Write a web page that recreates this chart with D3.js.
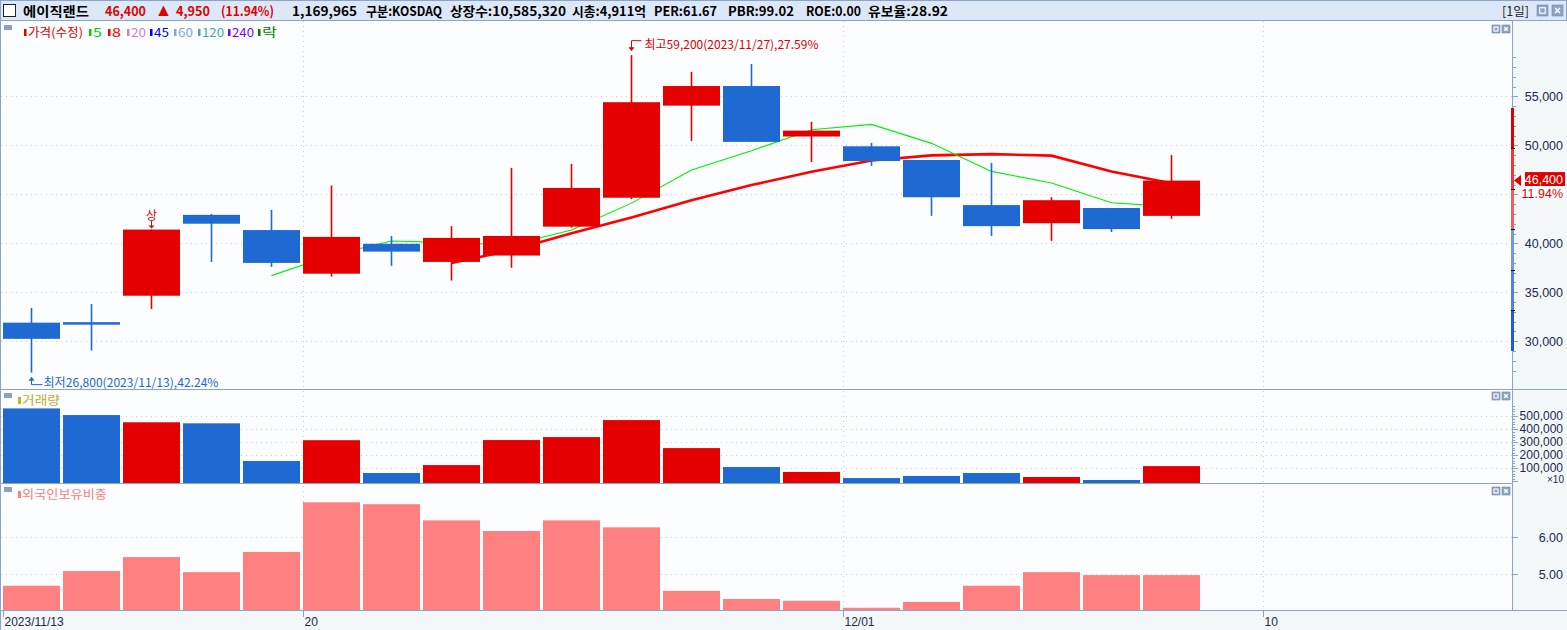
<!DOCTYPE html>
<html><head><meta charset="utf-8">
<script src="https://cdn.jsdelivr.net/npm/d3@7/dist/d3.min.js"></script>
<style>
html,body{margin:0;padding:0;background:#fff;overflow:hidden}
svg{display:block}
text{font-family:"Liberation Sans",Arial,sans-serif}
.kr{font-family:"Noto Sans CJK KR","Noto Sans",sans-serif}
</style></head>
<body>
<svg id="c" width="1567" height="630"></svg>
<script>
// ---------------- DATA ----------------
const dates = ["2023/11/13","2023/11/14","2023/11/15","2023/11/16","2023/11/17","2023/11/20","2023/11/21","2023/11/22","2023/11/23","2023/11/24","2023/11/27","2023/11/28","2023/11/29","2023/11/30","2023/12/01","2023/12/04","2023/12/05","2023/12/06","2023/12/07","2023/12/08"];
const futureDates = ["2023/12/09","2023/12/10","2023/12/11","2023/12/12","2023/12/13"];
const opens  = [31900,31950,34650,42900,41350,36900,39950,38100,38750,41700,44650,54050,56050,50900,49900,48500,43900,42050,43600,42800];
const highs  = [33400,33800,41400,43000,43400,45900,40750,41750,47700,48100,59200,57500,58300,52400,50250,48500,48200,44700,43600,49000];
const lows   = [26800,29050,33300,38100,37600,36600,37700,36200,37500,41600,44500,50450,50350,48300,47900,42800,40750,40250,41150,42500];
const closes = [30250,31850,41400,42000,38000,40650,39150,40550,40750,45650,54400,56050,50350,51500,48400,44700,41750,44400,41450,46400];
const volumes = [5620000,5107000,4550000,4470000,1567000,3170000,640000,1250000,3180000,3410000,4720000,2560000,1100000,720000,250000,410000,640000,330000,100000,1169965];
const foreignRatio = [4.68,5.08,5.46,5.05,5.60,6.95,6.90,6.46,6.17,6.46,6.27,4.54,4.32,4.27,4.08,4.24,4.68,5.05,4.97,4.97];
const maPeriods = [5, 8];
const priceTicks = [30000,35000,40000,45000,50000,55000];
const volumeTicks = [100000,200000,300000,400000,500000];
const foreignTicks = [5, 6];
const dateTickValues = ["2023/11/13","2023/11/20","2023/12/01","2023/12/10"];
const dateTickLabels = ["2023/11/13","20","12/01","10"];
const priceBand = [29000, 53800];
const lastPrice = 46400, lastPct = "11.94%";
const highInfo = "최고59,200(2023/11/27),27.59%";
const lowInfo = "최저26,800(2023/11/13),42.24%";
const headerItems = [
  {t:"에이직랜드", x:23, w:66, c:"#000"},
  {t:"46,400", x:105, w:41, c:"#e00000"},
  {t:"▲", x:158, w:11, c:"#e00000"},
  {t:"4,950", x:176, w:34, c:"#e00000"},
  {t:"(11.94%)", x:221, w:53, c:"#e00000"},
  {t:"1,169,965", x:292, w:65, c:"#000"},
  {t:"구분:KOSDAQ", x:366, w:76, c:"#000"},
  {t:"상장수:10,585,320", x:450, w:116, c:"#000"},
  {t:"시총:4,911억", x:572, w:74, c:"#000"},
  {t:"PER:61.67", x:654, w:63, c:"#000"},
  {t:"PBR:99.02", x:728, w:66, c:"#000"},
  {t:"ROE:0.00", x:806, w:55, c:"#000"},
  {t:"유보율:28.92", x:868, w:80, c:"#000"}
];
const legendItems = [
  {t:"가격(수정)", c:"#e00000", x:24, w:55},
  {t:"5", c:"#00d000", x:89, w:9},
  {t:"8", c:"#ff0000", x:108, w:9},
  {t:"20", c:"#d080e0", x:127, w:15},
  {t:"45", c:"#0000ff", x:150, w:15},
  {t:"60", c:"#80a8d8", x:174, w:15},
  {t:"120", c:"#40a8a8", x:198, w:22},
  {t:"240", c:"#8000ff", x:228, w:22},
  {t:"락", c:"#008000", x:258, w:15}
];

// ---------------- LAYOUT ----------------
const W = 1567, H = 630;
const plotL = 1, plotR = 1512;
const main = {top:21, bottom:389};
const vol = {top:390, bottom:483};
const fr = {top:484, bottom:610};
const RED = "#e50000", BLUE = "#1e69d2", GRID = "#c4ccd6", BORDER = "#8ea4c4", AXT = "#1c2a50";

const svg = d3.select("#c");
svg.append("rect").attr("width",W).attr("height",H).attr("fill","#fbfdfe");
svg.append("rect").attr("x",plotR).attr("y",21).attr("width",W-plotR).attr("height",H-21).attr("fill","#f3f7f7");
svg.append("rect").attr("x",0).attr("y",610).attr("width",W).attr("height",20).attr("fill","#f3f7f7");

const allDates = dates.concat(futureDates);
const x = d3.scaleBand().domain(allDates).range([1.5,1501.5]).paddingInner(0.05).paddingOuter(0.025);
const bw = x.bandwidth();
const cx = d => x(d) + bw/2;

const y = d3.scaleLinear().domain([25130, 62790]).range([main.bottom, main.top-1]);
const yv = d3.scaleLinear().domain([0, 704000]).range([481.3, vol.top]);
const yf = d3.scaleLinear().domain([4.02, 7.45]).range([fr.bottom, fr.top]);

// ---------------- GRID ----------------
const g = svg.append("g");
g.selectAll(".hp").data(priceTicks).join("line")
  .attr("x1",plotL).attr("x2",plotR).attr("y1",d=>Math.round(y(d))+0.5).attr("y2",d=>Math.round(y(d))+0.5)
  .attr("stroke",GRID).attr("stroke-dasharray","1,4");
g.selectAll(".hv").data(volumeTicks).join("line")
  .attr("x1",plotL).attr("x2",plotR).attr("y1",d=>Math.round(yv(d))+0.5).attr("y2",d=>Math.round(yv(d))+0.5)
  .attr("stroke",GRID).attr("stroke-dasharray","1,4");
g.selectAll(".hf").data(foreignTicks).join("line")
  .attr("x1",plotL).attr("x2",plotR).attr("y1",d=>Math.round(yf(d))+0.5).attr("y2",d=>Math.round(yf(d))+0.5)
  .attr("stroke",GRID).attr("stroke-dasharray","1,4");
g.selectAll(".vx").data(dateTickValues.slice(1)).join("line")
  .attr("x1",d=>Math.round(x(d))+0.5).attr("x2",d=>Math.round(x(d))+0.5).attr("y1",main.top).attr("y2",fr.bottom)
  .attr("stroke",GRID).attr("stroke-dasharray","1,4");

// ---------------- MOVING AVERAGES (derived from closes, drawn under candles) ----------------
function movingAvg(n){ return closes.map((c,i)=> i<n-1 ? null : d3.mean(closes.slice(i-n+1,i+1))); }
const ma5 = movingAvg(maPeriods[0]);
const ma8 = movingAvg(maPeriods[1]);
const line = d3.line().defined(d=>d.v!=null).x(d=>cx(d.d)).y(d=>y(d.v));
svg.append("path").datum(dates.map((d,i)=>({d,v:ma8[i]}))).attr("d",line)
  .attr("fill","none").attr("stroke","#ff0000").attr("stroke-width",2.6);
svg.append("path").datum(dates.map((d,i)=>({d,v:ma5[i]}))).attr("d",line)
  .attr("fill","none").attr("stroke","#00f000").attr("stroke-width",1.1);

// ---------------- CANDLES ----------------
const idx = d3.range(dates.length);
const cg = svg.append("g");
cg.selectAll(".wick").data(idx).join("line")
  .attr("x1",i=>cx(dates[i])).attr("x2",i=>cx(dates[i]))
  .attr("y1",i=>y(highs[i])).attr("y2",i=>y(lows[i]))
  .attr("stroke",i=>closes[i]>opens[i]?RED:BLUE).attr("stroke-width",1.6);
cg.selectAll(".body").data(idx).join("rect")
  .attr("x",i=>x(dates[i])).attr("width",bw)
  .attr("y",i=>y(Math.max(opens[i],closes[i])))
  .attr("height",i=>Math.max(2.5, Math.abs(y(opens[i])-y(closes[i]))))
  .attr("fill",i=>closes[i]>opens[i]?RED:BLUE);

// ---------------- VOLUME ----------------
svg.append("g").selectAll("rect").data(idx).join("rect")
  .attr("x",i=>x(dates[i])).attr("width",bw)
  .attr("y",i=>yv(volumes[i]/10)).attr("height",i=>vol.bottom-yv(volumes[i]/10))
  .attr("fill",i=>closes[i]>opens[i]?RED:BLUE);

// ---------------- FOREIGN RATIO ----------------
svg.append("g").selectAll("rect").data(idx).join("rect")
  .attr("x",i=>x(dates[i])).attr("width",bw)
  .attr("y",i=>yf(foreignRatio[i])).attr("height",i=>fr.bottom-yf(foreignRatio[i]))
  .attr("fill","#ff8080");

// ---------------- BORDERS ----------------
const bl = svg.append("g").attr("stroke",BORDER).attr("shape-rendering","crispEdges");
bl.append("line").attr("x1",0).attr("x2",W).attr("y1",389.5).attr("y2",389.5);
bl.append("line").attr("x1",0).attr("x2",plotR).attr("y1",483.5).attr("y2",483.5);
bl.append("line").attr("x1",0).attr("x2",W).attr("y1",610.5).attr("y2",610.5);
bl.append("line").attr("x1",plotR+0.5).attr("x2",plotR+0.5).attr("y1",21).attr("y2",611);
bl.append("line").attr("x1",0.5).attr("x2",0.5).attr("y1",21).attr("y2",630);

// ---------------- PRICE AXIS ----------------
const ax = svg.append("g").attr("shape-rendering","crispEdges");
const minorTicks = d3.range(Math.ceil(d3.min(lows)/1000)*1000, Math.floor(d3.max(highs)/1000)*1000+1, 1000);
ax.selectAll(".mt").data(minorTicks).join("line")
  .attr("x1",plotR).attr("x2",d=>plotR+(d%5000===0?6:4))
  .attr("y1",d=>Math.round(y(d))+0.5).attr("y2",d=>Math.round(y(d))+0.5).attr("stroke",BORDER);
const yp = y(lastPrice);
// labels hidden by the current-price box are not drawn (as in the reference)
const visiblePriceTicks = priceTicks.filter(d => Math.abs(y(d) - (yp+5)) > 17);
ax.selectAll(".pl").data(visiblePriceTicks).join("text")
  .attr("x",1563).attr("y",d=>y(d)+4.5).attr("text-anchor","end")
  .attr("font-size",12.5).attr("fill",AXT).text(d=>d3.format(",")(d));

// price range band on axis
const bandColors = ["#2060cc","#4c84d8","#6c9de0","#f06060","#ec3a3a","#e00000"];
const bandStep = (priceBand[1]-priceBand[0])/bandColors.length;
const bandSeg = d3.range(bandColors.length);
ax.selectAll(".bs").data(bandSeg).join("rect")
  .attr("x",plotR-1.5).attr("width",3)
  .attr("y",k=>y(priceBand[0]+(k+1)*bandStep)).attr("height",k=>y(priceBand[0]+k*bandStep)-y(priceBand[0]+(k+1)*bandStep))
  .attr("fill",k=>bandColors[k]);
ax.selectAll(".bsep").data(bandSeg.slice(1)).join("rect")
  .attr("x",plotR-1.5).attr("width",4).attr("y",k=>y(priceBand[0]+k*bandStep)-0.5).attr("height",1.2).attr("fill","#000");

// current price marker
svg.append("path").attr("d",`M${plotR+2},${yp} L${plotR+9},${yp-5.5} L${plotR+9},${yp+5.5} Z`).attr("fill","#e00000");
svg.append("rect").attr("x",1525).attr("y",yp-8.5).attr("width",40).attr("height",14).attr("fill","#e00000");
svg.append("text").attr("x",1563).attr("y",yp+3.5).attr("text-anchor","end").attr("font-size",12.5).attr("fill","#fff").text(d3.format(",")(lastPrice));
svg.append("rect").attr("x",1525).attr("y",yp+5.5).attr("width",40).attr("height",13).attr("fill","#fff");
svg.append("text").attr("x",1563).attr("y",yp+17).attr("text-anchor","end").attr("font-size",12.5).attr("fill","#e00000").text(lastPct);

// ---------------- VOLUME AXIS ----------------
const vMinor = d3.range(0, 580001, 20000);
ax.selectAll(".vmt").data(vMinor).join("line")
  .attr("x1",plotR).attr("x2",d=>plotR+(d%100000===0?6:3))
  .attr("y1",d=>Math.round(yv(d))+0.5).attr("y2",d=>Math.round(yv(d))+0.5).attr("stroke",BORDER);
ax.selectAll(".vl").data(volumeTicks).join("text")
  .attr("x",1563).attr("y",d=>yv(d)+4).attr("text-anchor","end")
  .attr("font-size",12).attr("fill",AXT).text(d=>d3.format(",")(d));
svg.append("text").attr("x",1564).attr("y",482.5).attr("text-anchor","end").attr("font-size",10).attr("fill",AXT).text("×10");

// ---------------- FOREIGN AXIS ----------------
ax.selectAll(".fmt").data(foreignTicks).join("line")
  .attr("x1",plotR).attr("x2",plotR+6)
  .attr("y1",d=>Math.round(yf(d))+0.5).attr("y2",d=>Math.round(yf(d))+0.5).attr("stroke",BORDER);
ax.selectAll(".fl").data(foreignTicks).join("text")
  .attr("x",1563).attr("y",d=>yf(d)+4.5).attr("text-anchor","end")
  .attr("font-size",12.5).attr("fill",AXT).text(d=>d3.format(".2f")(d));

// ---------------- DATE AXIS ----------------
ax.selectAll(".dt").data(dateTickValues).join("line")
  .attr("x1",d=>Math.round(x(d))+0.5).attr("x2",d=>Math.round(x(d))+0.5).attr("y1",611).attr("y2",617).attr("stroke",BORDER);
svg.selectAll(".dl").data(dateTickValues).join("text")
  .attr("x",d=>x(d)+1.5).attr("y",626).attr("font-size",12).attr("fill",AXT)
  .text((d,i)=>dateTickLabels[i]);

// ---------------- ANNOTATIONS ----------------
const hiIdx = highs.indexOf(d3.max(highs));
const loIdx = lows.indexOf(d3.min(lows));
const hx = cx(dates[hiIdx]), hy = y(highs[hiIdx]);
svg.append("path").attr("d",`M${hx+10},${hy-14.5} H${hx} V${hy-7}`).attr("fill","none").attr("stroke","#e00000").attr("stroke-width",1);
svg.append("path").attr("d",`M${hx-3},${hy-8} L${hx+3},${hy-8} L${hx},${hy-4} Z`).attr("fill","#e00000");
svg.append("text").attr("class","kr").attr("x",hx+13).attr("y",hy-6).attr("font-size",12).attr("fill","#e00000")
  .attr("textLength",174).attr("lengthAdjust","spacingAndGlyphs").text(highInfo);
const lx = cx(dates[loIdx]), ly = y(lows[loIdx]);
svg.append("path").attr("d",`M${lx},${ly+7} V${ly+12} H${lx+11}`).attr("fill","none").attr("stroke",BLUE).attr("stroke-width",1);
svg.append("path").attr("d",`M${lx-3},${ly+8} L${lx+3},${ly+8} L${lx},${ly+4} Z`).attr("fill",BLUE);
svg.append("text").attr("class","kr").attr("x",lx+12).attr("y",ly+14).attr("font-size",12).attr("fill",BLUE)
  .attr("textLength",175).attr("lengthAdjust","spacingAndGlyphs").text(lowInfo);
// upper-limit marker (상한가)
const upIdx = 2;
const ux = cx(dates[upIdx]), uy = y(highs[upIdx]);
svg.append("text").attr("class","kr").attr("x",ux).attr("y",uy-10).attr("text-anchor","middle").attr("font-size",12).attr("fill","#e00000").text("상");
svg.append("line").attr("x1",ux).attr("x2",ux).attr("y1",uy-9).attr("y2",uy-3).attr("stroke","#e00000");
svg.append("path").attr("d",`M${ux-3},${uy-4} L${ux+3},${uy-4} L${ux},${uy-1} Z`).attr("fill","#e00000");

// ---------------- HEADER ----------------
svg.append("rect").attr("x",0.5).attr("y",0.5).attr("width",W-1).attr("height",20).attr("fill","#dce8f8").attr("stroke",BORDER);
svg.append("rect").attr("x",3.5).attr("y",4.5).attr("width",12).attr("height",12).attr("fill","#fff").attr("stroke","#222");
svg.selectAll(".hd").data(headerItems).join("text").attr("class","kr")
  .attr("x",d=>d.x).attr("y",16).attr("font-size",13).attr("font-weight","bold").attr("fill",d=>d.c)
  .attr("textLength",d=>d.w).attr("lengthAdjust","spacingAndGlyphs").text(d=>d.t);
svg.append("text").attr("class","kr").attr("x",1502).attr("y",16).attr("font-size",12.5).attr("fill","#222")
  .attr("textLength",27).attr("lengthAdjust","spacingAndGlyphs").text("[1일]");
function winBtn(xp, ypp, s, kind){
  svg.append("rect").attr("x",xp).attr("y",ypp).attr("width",s).attr("height",s).attr("fill","#8ea4c4").attr("stroke","#6f86aa").attr("stroke-width",0.6);
  if(kind==="min"){
    svg.append("rect").attr("x",xp+s*0.25).attr("y",ypp+s*0.25).attr("width",s*0.5).attr("height",s*0.5).attr("fill","none").attr("stroke","#fff").attr("stroke-width",1.1);
  } else {
    svg.append("path").attr("d",`M${xp+s*0.28},${ypp+s*0.28} L${xp+s*0.72},${ypp+s*0.72} M${xp+s*0.72},${ypp+s*0.28} L${xp+s*0.28},${ypp+s*0.72}`).attr("stroke","#fff").attr("stroke-width",1.4);
  }
}
winBtn(1537,5,11,"min"); winBtn(1552,5,11,"x");
[25,392,487].forEach(py=>{ winBtn(1492,py,8,"min"); winBtn(1502,py,8,"x"); });

// ---------------- LEGENDS ----------------
function paneIcon(py){ svg.append("rect").attr("x",4).attr("y",py).attr("width",8).attr("height",5).attr("fill","#8ea0c0"); }
paneIcon(25); paneIcon(393); paneIcon(487);
legendItems.forEach(d=>{
  svg.append("rect").attr("x",d.x).attr("y",29).attr("width",2.5).attr("height",7).attr("fill",d.c);
  svg.append("text").attr("class","kr").attr("x",d.x+4).attr("y",36.5).attr("font-size",12).attr("fill",d.c)
    .attr("textLength",d.w).attr("lengthAdjust","spacingAndGlyphs").text(d.t);
});
svg.append("rect").attr("x",18).attr("y",397).attr("width",3).attr("height",7).attr("fill","#c8b428");
svg.append("text").attr("class","kr").attr("x",22).attr("y",405).attr("font-size",12).attr("fill","#c0ac30")
  .attr("textLength",38).attr("lengthAdjust","spacingAndGlyphs").text("거래량");
svg.append("rect").attr("x",18).attr("y",491).attr("width",3).attr("height",7).attr("fill","#ff7f7f");
svg.append("text").attr("class","kr").attr("x",22).attr("y",499).attr("font-size",12).attr("fill","#ff7f7f")
  .attr("textLength",85).attr("lengthAdjust","spacingAndGlyphs").text("외국인보유비중");
</script>
</body></html>
